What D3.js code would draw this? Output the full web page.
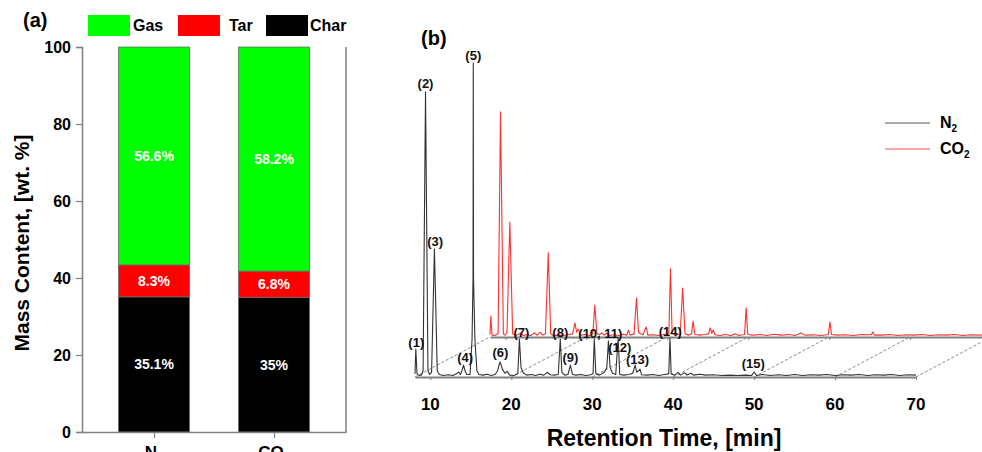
<!DOCTYPE html>
<html><head><meta charset="utf-8">
<script src="https://cdn.jsdelivr.net/npm/d3@7"></script>
<style>
html,body{margin:0;padding:0;background:#fff;}
svg{display:block;font-family:"Liberation Sans",Arial,sans-serif;font-weight:bold;}
</style></head>
<body>
<svg id="chart" width="982" height="452"></svg>
<script>
// ---------- Data: panel (a) ----------
const atmospheres = ["N2", "CO2"];
const components = ["Char", "Tar", "Gas"];
const charValues = [35.1, 35.0];
const tarValues = [8.3, 6.8];
const gasValues = [56.6, 58.2];
const charLabels = ["35.1%", "35%"];
const tarLabels = ["8.3%", "6.8%"];
const gasLabels = ["56.6%", "58.2%"];
const massTicks = [0, 20, 40, 60, 80, 100];

// ---------- Data: panel (b) chromatograms [time(min), relative intensity] ----------
const n2Trace = [[8.1,1.0],[8.2,8.9],[8.35,1.0],[8.6,0.5],[8.9,0.6],[9.1,2],[9.4,90.8],[9.7,2],[9.9,0.8],[10.15,1.5],[10.5,40.8],[10.85,2],[11.1,0.8],[11.6,0.5],[12.2,0.7],[12.8,0.5],[13.2,1.0],[13.5,1.6],[13.7,0.8],[13.9,2.0],[14.1,3.8],[14.3,1.8],[14.5,0.8],[14.9,0.8],[15.15,12],[15.27,31.5],[15.3,100],[15.33,31.5],[15.5,12],[15.75,2],[16.0,0.8],[16.5,0.6],[17.0,0.9],[17.5,0.5],[18.0,0.8],[18.3,2],[18.6,4.8],[18.9,2.5],[19.2,1.2],[19.5,1.8],[19.8,0.6],[20.3,0.5],[20.8,1],[21.0,12.1],[21.2,3],[21.5,1.2],[21.9,0.6],[22.5,0.8],[23.0,0.5],[23.5,0.9],[24.0,0.6],[24.5,1.5],[24.8,0.7],[25.3,0.6],[25.8,0.8],[26.05,12.1],[26.25,1.5],[26.6,0.6],[27.0,0.8],[27.3,3.8],[27.55,0.8],[28.0,0.6],[28.6,0.8],[29.2,0.5],[29.8,0.7],[30.1,1],[30.25,12.1],[30.45,1],[30.9,0.6],[31.5,1.5],[31.8,3],[32.0,11.5],[32.2,3],[32.5,1.2],[32.9,0.8],[33.2,12.4],[33.4,0.8],[33.9,0.6],[34.5,0.8],[35.0,1.2],[35.3,3.8],[35.5,1.5],[35.9,2.5],[36.1,0.7],[36.8,0.6],[37.5,0.8],[38.2,0.5],[38.9,0.8],[39.45,1],[39.6,12.4],[39.75,1],[40.2,0.6],[40.6,1.5],[40.9,0.6],[41.4,1.4],[41.7,0.6],[42.2,1.2],[42.5,0.6],[43.3,0.9],[44.0,0.6],[45.0,0.7],[46.0,0.5],[47.0,0.6],[48.0,0.5],[49.0,0.6],[49.7,0.5],[50.0,1.6],[50.3,0.5],[51.0,0.8],[52.0,0.5],[53.0,0.7],[54.0,0.5],[55.0,0.8],[56.0,0.5],[57.0,0.7],[58.0,0.6],[59.0,0.8],[60.0,0.5],[61.0,0.7],[62.0,0.6],[63.0,0.8],[64.0,0.5],[65.0,0.7],[66.0,0.6],[67.0,0.8],[68.0,0.5],[69.0,0.7],[70.0,0.6]];

const co2Trace = [[8.1,0.8],[8.2,6.7],[8.35,0.6],[8.7,0.5],[9.1,1],[9.4,71.7],[9.75,1],[9.95,0.6],[10.2,1.5],[10.55,36.6],[10.9,1],[11.3,0.5],[11.9,1.2],[12.2,0.5],[12.7,0.8],[13.1,0.5],[13.6,1.3],[13.9,0.6],[14.3,1.5],[14.6,0.6],[14.95,1],[15.3,26.8],[15.6,1],[15.9,0.5],[16.5,0.6],[17.2,0.5],[17.8,0.8],[18.3,1],[18.6,4.5],[18.8,1.5],[19.0,2.5],[19.3,0.6],[19.9,0.8],[20.4,0.5],[20.8,1],[21.05,10.2],[21.3,1.2],[21.6,0.6],[21.9,1.3],[22.2,0.6],[22.5,1.2],[22.8,0.5],[23.4,0.7],[24.0,0.5],[24.6,0.9],[25.0,0.6],[25.2,2.2],[25.4,0.6],[25.9,1],[26.2,12.4],[26.45,1.5],[26.7,1],[27.0,0.7],[27.4,3.2],[27.6,0.6],[28.2,0.7],[28.9,0.5],[29.6,0.8],[30.2,1],[30.4,21.7],[30.6,1.2],[31.1,0.6],[31.6,1],[31.9,15.6],[32.2,1],[32.6,0.6],[33.0,1],[33.2,5.1],[33.4,0.8],[34.0,0.6],[34.7,0.8],[35.1,1],[35.3,2.9],[35.5,1.2],[35.7,2.2],[35.9,0.7],[36.5,0.5],[37.2,0.8],[37.8,0.5],[38.4,1],[38.8,0.5],[39.55,0.8],[39.75,9.2],[39.95,0.8],[40.6,0.6],[41.5,0.8],[42.3,0.5],[43.2,0.9],[44.1,0.6],[45.0,0.8],[45.8,0.5],[46.5,1.3],[47.0,0.6],[48.0,0.7],[49.0,0.5],[49.9,0.8],[50.1,4.8],[50.3,0.8],[51.0,0.6],[52.0,0.7],[53.0,0.5],[54.0,0.8],[55.2,0.7],[55.4,1.6],[55.6,0.6],[56.5,0.6],[57.5,0.8],[58.5,0.5],[59.5,0.7],[60.5,0.6],[61.5,0.8],[62.5,0.5],[63.5,0.7],[64.5,0.6],[65.5,0.8],[66.5,0.5],[67.5,0.7],[68.5,0.6],[69.5,0.7],[70.0,0.5]];

const timeTicks = [10, 20, 30, 40, 50, 60, 70];
const depthGuideTimes = [8.1, 20, 30, 40, 50, 60, 70];
const peakLabels = ["(1)","(2)","(3)","(4)","(5)","(6)","(7)","(8)","(9)","(10, 11)","(12)","(13)","(14)","(15)"];
const peakLabelTimes = [8.26, 9.4, 10.6, 14.3, 15.3, 18.65, 21.25, 26.05, 27.3, 31.0, 33.4, 35.6, 39.65, 49.9];
const peakLabelLevels = [11.1, 93.6, 43.3, 6.4, 102.5, 8, 14.3, 14.3, 6.4, 14, 9.6, 5.7, 14.6, 4.5];
const seriesNames = ["N2", "CO2"];

// ---------- Drawing ----------
const svg = d3.select("#chart");
const AX = "#808080";

// ===== Panel (a) =====
const ya = d3.scaleLinear().domain([0, 100]).range([432, 47]);
const xa = d3.scalePoint().domain(atmospheres).range([82, 346]).padding(0.6);
const barW = 71;
const colorA = d3.scaleOrdinal().domain(components).range(["#000000", "#ff0000", "#00ff00"]);

const stackRows = atmospheres.map((a, i) => ({atm: a, Char: charValues[i], Tar: tarValues[i], Gas: gasValues[i]}));
const stacked = d3.stack().keys(components)(stackRows);
const labelSets = {Char: charLabels, Tar: tarLabels, Gas: gasLabels};

const gA = svg.append("g");
stacked.forEach(layer => {
  gA.selectAll(null).data(layer).join("rect")
    .attr("x", d => xa(d.data.atm) - barW / 2)
    .attr("width", barW)
    .attr("y", d => ya(d[1]))
    .attr("height", d => ya(d[0]) - ya(d[1]))
    .attr("fill", colorA(layer.key))
    .attr("stroke", "#6a6a6a").attr("stroke-width", 0.8);
  gA.selectAll(null).data(layer).join("text")
    .attr("x", d => xa(d.data.atm))
    .attr("y", d => (ya(d[0]) + ya(d[1])) / 2)
    .attr("dy", "0.36em")
    .attr("text-anchor", "middle")
    .attr("fill", "#ffffff")
    .attr("font-size", 14)
    .text((d, i) => labelSets[layer.key][i]);
});

// y axis (a)
const yAxisA = gA.append("g").attr("transform", "translate(82,0)")
  .call(d3.axisLeft(ya).tickValues(massTicks).tickSize(6).tickPadding(5));
yAxisA.select(".domain").attr("stroke", AX).attr("stroke-width", 1.5);
yAxisA.selectAll(".tick line").attr("stroke", AX).attr("stroke-width", 1.2);
yAxisA.selectAll(".tick text").attr("font-size", 16).attr("font-family", "Liberation Sans, Arial, sans-serif").attr("font-weight", "bold").attr("fill", "#000");

// x axis (a)
const xAxisA = gA.append("g").attr("transform", "translate(0,432)")
  .call(d3.axisBottom(xa).tickSize(6).tickSizeOuter(0).tickFormat(""));
xAxisA.select(".domain").attr("stroke", AX).attr("stroke-width", 1.5);
xAxisA.selectAll(".tick line").attr("stroke", AX).attr("stroke-width", 1.2);
// right frame
gA.append("line").attr("x1", 346).attr("x2", 346).attr("y1", ya(100)).attr("y2", ya(0))
  .attr("stroke", AX).attr("stroke-width", 1.5);

// category labels with subscripts (cut by the bottom edge, as in the original)
atmospheres.forEach(a => {
  const t = gA.append("text").attr("x", xa(a)).attr("y", 458).attr("text-anchor", "middle").attr("font-size", 17);
  t.append("tspan").text(a.replace("2", ""));
  t.append("tspan").attr("font-size", 11).attr("dy", 4).text("2");
});

// y title
gA.append("text").attr("transform", "translate(29,243) rotate(-90)")
  .attr("text-anchor", "middle").attr("font-size", 21).text("Mass Content, [wt. %]");

// (a) label
svg.append("text").attr("x", 23).attr("y", 27).attr("font-size", 20).text("(a)");

// legend (a)
const legA = [["Gas", 88, 133], ["Tar", 178, 229], ["Char", 266, 310]];
legA.forEach(([k, rx, tx]) => {
  svg.append("rect").attr("x", rx).attr("y", 15).attr("width", 42).attr("height", 21).attr("fill", colorA(k));
  svg.append("text").attr("x", tx).attr("y", 31).attr("font-size", 16).text(k);
});

// ===== Panel (b) =====
const xb = d3.scaleLinear().domain([8.1, 70]).range([415, 916]);
const yb = d3.scaleLinear().domain([0, 100]).range([0, -314]);
const base = {N2: {dx: 0, y0: 377}, CO2: {dx: 75, y0: 337}};
const traceColor = {N2: "#333333", CO2: "#ff3030"};
const gB = svg.append("g");

// depth guides (dashed)
gB.selectAll(null).data(depthGuideTimes).join("line")
  .attr("x1", d => xb(d)).attr("y1", base.N2.y0)
  .attr("x2", d => xb(d) + base.CO2.dx).attr("y2", base.CO2.y0)
  .attr("stroke", "#8a8a8a").attr("stroke-width", 1).attr("stroke-dasharray", "3,2");

// axes lines for both traces
seriesNames.forEach(s => {
  const b = base[s];
  const g = gB.append("g").attr("transform", `translate(${b.dx},${b.y0})`);
  const ax = g.call(d3.axisBottom(xb).tickValues(timeTicks).tickSize(3).tickSizeOuter(0).tickFormat(""));
  ax.select(".domain").attr("stroke", AX).attr("stroke-width", 2);
  ax.selectAll(".tick line").attr("stroke", AX).attr("stroke-width", 1);
});

// traces
const line = d3.line().x(d => xb(d[0])).y(d => yb(d[1]));
[["CO2", co2Trace], ["N2", n2Trace]].forEach(([s, data]) => {
  const b = base[s];
  gB.append("path").attr("transform", `translate(${b.dx},${b.y0})`)
    .attr("d", line(data)).attr("fill", "none")
    .attr("stroke", traceColor[s]).attr("stroke-width", 1.1).attr("stroke-linejoin", "round");
});

// peak labels
gB.selectAll(null).data(peakLabels).join("text")
  .attr("x", (d, i) => xb(peakLabelTimes[i]))
  .attr("y", (d, i) => base.N2.y0 + yb(peakLabelLevels[i]))
  .attr("dy", "0.36em").attr("text-anchor", "middle")
  .attr("font-size", 13).attr("fill", "#111").text(d => d);

// tick labels (b)
gB.selectAll(null).data(timeTicks).join("text")
  .attr("x", d => xb(d)).attr("y", 410).attr("text-anchor", "middle")
  .attr("font-size", 17).text(d => d);

// x title
gB.append("text").attr("x", 664).attr("y", 446).attr("text-anchor", "middle")
  .attr("font-size", 23).text("Retention Time, [min]");

// (b) label
svg.append("text").attr("x", 421).attr("y", 45).attr("font-size", 20).text("(b)");

// legend (b)
const legB = [["N2", 123, "#555555"], ["CO2", 149, "#ff5050"]];
legB.forEach(([s, y, c]) => {
  svg.append("line").attr("x1", 885).attr("x2", 930).attr("y1", y).attr("y2", y).attr("stroke", c).attr("stroke-width", 1.2);
  const t = svg.append("text").attr("x", 940).attr("y", y + 5).attr("font-size", 16);
  t.append("tspan").text(s.replace("2", ""));
  t.append("tspan").attr("font-size", 10).attr("dy", 4).text("2");
});
</script>
</body></html>
